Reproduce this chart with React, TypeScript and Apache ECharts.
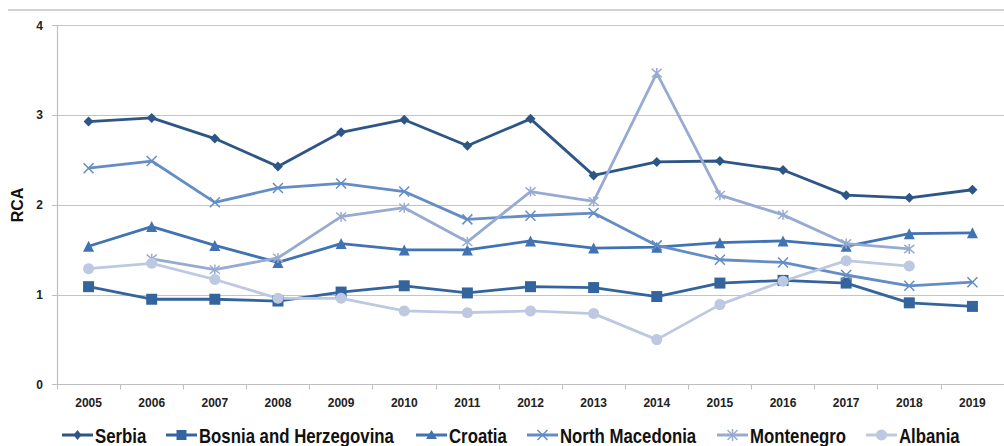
import React, { useEffect, useRef } from "react";
import * as echarts from "echarts";

const years = ["2005","2006","2007","2008","2009","2010","2011","2012","2013","2014","2015","2016","2017","2018","2019"];
const serbia = [2.93, 2.97, 2.74, 2.43, 2.81, 2.95, 2.66, 2.96, 2.33, 2.48, 2.49, 2.39, 2.11, 2.08, 2.17];
const bosnia = [1.09, 0.95, 0.95, 0.93, 1.03, 1.10, 1.02, 1.09, 1.08, 0.98, 1.13, 1.16, 1.13, 0.91, 0.87];
const croatia = [1.54, 1.76, 1.55, 1.36, 1.57, 1.50, 1.50, 1.60, 1.52, 1.53, 1.58, 1.60, 1.54, 1.68, 1.69];
const northMacedonia = [2.41, 2.49, 2.03, 2.19, 2.24, 2.15, 1.84, 1.88, 1.91, 1.55, 1.39, 1.36, 1.22, 1.10, 1.14];
const montenegro = [null, 1.40, 1.28, 1.41, 1.87, 1.97, 1.59, 2.15, 2.04, 3.47, 2.11, 1.89, 1.57, 1.51, null];
const albania = [1.29, 1.35, 1.17, 0.96, 0.96, 0.82, 0.80, 0.82, 0.79, 0.50, 0.89, 1.15, 1.38, 1.32, null];
const seriesNames = ["Serbia", "Bosnia and Herzegovina", "Croatia", "North Macedonia", "Montenegro", "Albania"];

const FONT = "'Liberation Sans', Arial, sans-serif";
const crossPath = "path://M0,0L10,10M10,0L0,10";
const starPath = "path://M0,0L10,10M10,0L0,10M5,-1L5,11";

const COLORS = ["#2D5686", "#34649E", "#4172B2", "#648DC6", "#97ABD2", "#BDC9E1"];
const LEGEND_X = [62, 166, 416, 527, 717, 866];

function legendMarker(kind: string, cx: number, cy: number, color: string): any[] {
  switch (kind) {
    case "diamond":
      return [{ type: "polygon", shape: { points: [[cx - 4, cy], [cx, cy - 5], [cx + 4, cy], [cx, cy + 5]] }, style: { fill: color } }];
    case "rect":
      return [{ type: "rect", shape: { x: cx - 5, y: cy - 5, width: 10, height: 10 }, style: { fill: color } }];
    case "triangle":
      return [{ type: "polygon", shape: { points: [[cx, cy - 5], [cx + 5.5, cy + 4], [cx - 5.5, cy + 4]] }, style: { fill: color } }];
    case "cross":
      return [
        { type: "line", shape: { x1: cx - 5, y1: cy - 5, x2: cx + 5, y2: cy + 5 }, style: { stroke: color, lineWidth: 1.5 } },
        { type: "line", shape: { x1: cx + 5, y1: cy - 5, x2: cx - 5, y2: cy + 5 }, style: { stroke: color, lineWidth: 1.5 } },
      ];
    case "star":
      return [
        { type: "line", shape: { x1: cx - 5, y1: cy - 5, x2: cx + 5, y2: cy + 5 }, style: { stroke: color, lineWidth: 1.5 } },
        { type: "line", shape: { x1: cx + 5, y1: cy - 5, x2: cx - 5, y2: cy + 5 }, style: { stroke: color, lineWidth: 1.5 } },
        { type: "line", shape: { x1: cx, y1: cy - 6, x2: cx, y2: cy + 6 }, style: { stroke: color, lineWidth: 1.5 } },
      ];
    default:
      return [{ type: "circle", shape: { cx, cy, r: 5.5 }, style: { fill: color } }];
  }
}

export default function App() {
  const ref = useRef<HTMLDivElement>(null);
  useEffect(() => {
    const chart = echarts.init(ref.current!, null, { renderer: "svg" });
    const mk = (name: string, data: any[], color: string, symbol: string, size: number, stroke = false) => ({
      name,
      type: "line",
      data,
      symbol,
      symbolSize: size,
      showSymbol: true,
      connectNulls: false,
      lineStyle: { color, width: 2.8 },
      itemStyle: stroke
        ? { color: "rgba(0,0,0,0)", borderColor: color, borderWidth: 1.5 }
        : { color, borderColor: color, borderWidth: 0 },
      emphasis: { disabled: true },
    });
    const kinds = ["diamond", "rect", "triangle", "cross", "star", "circle"];
    const legendEls: any[] = [];
    const cy = 435;
    seriesNames.forEach((nm, i) => {
      const x0 = LEGEND_X[i];
      const c = COLORS[i];
      legendEls.push({ type: "line", shape: { x1: x0, y1: cy, x2: x0 + 31, y2: cy }, style: { stroke: c, lineWidth: 3 } });
      legendEls.push(...legendMarker(kinds[i], x0 + 15.5, cy, c));
      legendEls.push({
        type: "text",
        x: x0 + 33,
        y: cy + 1,
        scaleX: 0.84,
        style: {
          text: nm,
          fill: "#111",
          font: "bold 20px 'Liberation Sans', Arial, sans-serif",
          align: "left",
          verticalAlign: "middle",
        },
      });
    });
    chart.setOption({
      animation: false,
      textStyle: { fontFamily: FONT },
      graphic: [
        { type: "line", shape: { x1: 8, y1: 10, x2: 1004, y2: 10 }, style: { stroke: "#A6A6A6", lineWidth: 1.2 } },
        ...legendEls,
      ],
      grid: { left: 57, right: -7, top: 25.5, bottom: 61.5, containLabel: false },
      xAxis: {
        type: "category",
        data: years,
        boundaryGap: true,
        axisLine: { lineStyle: { color: "#BFBFBF", width: 1.2 } },
        axisTick: { show: true, length: 5, alignWithLabel: false, lineStyle: { color: "#BFBFBF" } },
        axisLabel: { fontFamily: FONT, fontSize: 12, fontWeight: "bold", color: "#222", margin: 12 },
        splitLine: { show: false },
      },
      yAxis: {
        type: "value",
        min: 0,
        max: 4,
        interval: 1,
        name: "RCA",
        nameLocation: "middle",
        nameRotate: 90,
        nameGap: 23,
        nameTextStyle: { fontFamily: FONT, fontSize: 16, fontWeight: "bold", color: "#111" },
        axisLine: { show: true, lineStyle: { color: "#BFBFBF", width: 1.2 } },
        axisTick: { show: true, length: 5, lineStyle: { color: "#BFBFBF" } },
        axisLabel: { fontFamily: FONT, fontSize: 12, fontWeight: "bold", color: "#222", margin: 14 },
        splitLine: { show: true, lineStyle: { color: "#C4C4C4", width: 1.2 } },
      },
      series: [
        mk(seriesNames[0], serbia, COLORS[0], "diamond", 10),
        mk(seriesNames[1], bosnia, COLORS[1], "rect", 11),
        mk(seriesNames[2], croatia, COLORS[2], "triangle", 11),
        mk(seriesNames[3], northMacedonia, COLORS[3], crossPath, 10, true),
        mk(seriesNames[4], montenegro, COLORS[4], starPath, 10, true),
        mk(seriesNames[5], albania, COLORS[5], "circle", 11),
      ],
    });
    return () => chart.dispose();
  }, []);
  return (
    <div
      ref={ref}
      style={{ position: "absolute", left: 0, top: 0, width: 1004, height: 446, background: "#fff" }}
    />
  );
}
